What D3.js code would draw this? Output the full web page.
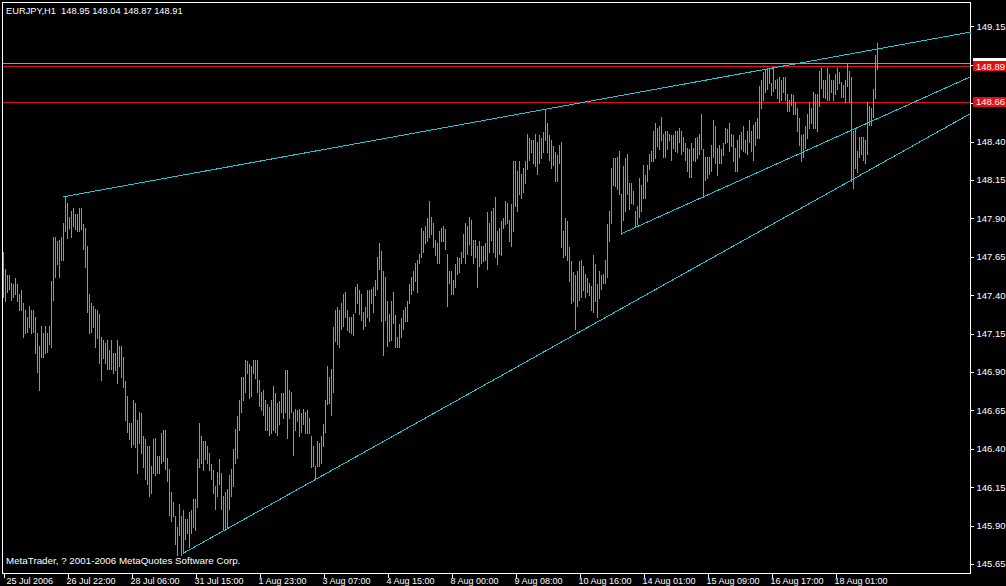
<!DOCTYPE html>
<html><head><meta charset="utf-8">
<script src="https://cdn.jsdelivr.net/npm/d3@7"></script>
<style>
html,body{margin:0;padding:0;background:#000;overflow:hidden}
svg{display:block}
text{font-family:"Liberation Sans",Arial,sans-serif}
</style>
</head><body>
<svg id="c" width="1006" height="586"></svg>
<script>
// ---------- DATA ----------
const symbol = "EURJPY,H1";
const lastOHLC = [148.95, 149.04, 148.87, 148.91];
const copyright = "MetaTrader, ? 2001-2006 MetaQuotes Software Corp.";

const highs = [
147.68,147.57,147.53,147.53,147.48,147.47,147.51,147.47,147.41,147.43,
147.35,147.30,147.26,147.33,147.30,147.30,147.26,147.15,147.07,147.20,
147.15,147.20,147.15,147.20,147.49,147.78,147.78,147.75,147.76,147.78,
147.87,148.04,148.00,147.91,147.95,147.97,147.93,147.93,147.97,147.97,
147.86,147.84,147.72,147.41,147.35,147.33,147.31,147.30,147.28,147.13,
147.11,147.09,147.11,147.04,147.11,147.02,147.02,147.11,147.07,147.07,
147.00,146.84,146.74,146.57,146.57,146.72,146.70,146.59,146.64,146.63,
146.48,146.46,146.42,146.42,146.29,146.46,146.47,146.35,146.35,146.50,
146.52,146.52,146.34,146.27,146.12,146.05,145.96,145.89,146.04,145.96,
146.00,145.94,145.94,145.99,146.00,146.07,146.07,146.33,146.57,146.48,
146.45,146.45,146.42,146.37,146.30,146.26,146.16,146.25,146.33,146.24,
146.09,146.12,146.14,146.23,146.27,146.40,146.53,146.61,146.72,146.87,
146.87,146.98,146.97,146.95,146.94,146.98,146.98,146.98,146.85,146.77,
146.78,146.72,146.69,146.67,146.72,146.81,146.76,146.70,146.71,146.76,
146.76,146.91,146.91,146.78,146.77,146.64,146.66,146.65,146.66,146.63,
146.66,146.64,146.65,146.60,146.48,146.42,146.29,146.45,146.44,146.48,
146.56,146.72,146.94,146.87,146.92,147.19,147.30,147.32,147.30,147.35,
147.41,147.42,147.30,147.26,147.26,147.28,147.45,147.47,147.43,147.41,
147.29,147.32,147.43,147.43,147.44,147.45,147.50,147.65,147.74,147.69,
147.56,147.52,147.36,147.28,147.36,147.42,147.27,147.13,147.21,147.25,
147.30,147.32,147.36,147.47,147.52,147.56,147.61,147.63,147.67,147.84,
147.82,147.85,147.90,148.01,147.91,147.87,147.76,147.74,147.82,147.84,
147.85,147.83,147.67,147.56,147.56,147.50,147.60,147.65,147.64,147.68,
147.80,147.87,147.85,147.91,147.89,147.76,147.76,147.72,147.75,147.72,
147.72,147.74,147.94,147.87,147.95,147.97,148.04,147.82,147.84,147.88,
147.90,148.01,148.00,147.89,147.99,148.27,148.27,148.21,148.27,148.19,
148.23,148.27,148.45,148.42,148.41,148.41,148.45,148.40,148.44,148.42,
148.46,148.61,148.52,148.44,148.41,148.37,148.33,148.31,148.38,148.40,
147.82,147.90,147.88,147.71,147.62,147.55,147.53,147.56,147.62,147.63,
147.59,147.54,147.51,147.48,147.46,147.66,147.60,147.47,147.56,147.53,
147.54,147.63,147.86,147.95,148.23,148.29,148.29,148.30,148.34,148.06,
148.24,148.29,148.32,148.13,148.13,148.08,147.95,147.98,148.16,148.12,
148.25,148.18,148.25,148.32,148.34,148.47,148.52,148.49,148.50,148.56,
148.45,148.47,148.47,148.45,148.44,148.44,148.47,148.47,148.49,148.47,
148.43,148.39,148.36,148.35,148.39,148.36,148.42,148.43,148.45,148.58,
148.35,148.30,148.30,148.30,148.38,148.54,148.50,148.36,148.38,148.35,
148.39,148.49,148.48,148.52,148.45,148.44,148.36,148.41,148.44,148.46,
148.50,148.41,148.47,148.54,148.47,148.51,148.53,148.55,148.76,148.80,
148.85,148.87,148.88,148.87,148.78,148.88,148.80,148.81,148.82,148.80,
148.82,148.82,148.71,148.67,148.71,148.70,148.66,148.62,148.55,148.44,
148.45,148.50,148.58,148.66,148.62,148.72,148.71,148.71,148.86,148.88,
148.80,148.80,148.88,148.84,148.80,148.80,148.84,148.88,148.85,148.79,
148.77,148.80,148.91,148.86,148.82,148.47,148.49,148.34,148.43,148.43,
148.43,148.41,148.66,148.63,148.62,148.74,148.96,149.04
];

const lows = [
147.39,147.36,147.42,147.44,147.37,147.39,147.41,147.36,147.30,147.30,
147.13,147.15,147.16,147.19,147.15,147.16,147.02,146.90,146.78,147.00,
147.00,147.02,147.03,147.08,147.06,147.37,147.52,147.60,147.52,147.63,
147.63,147.82,147.77,147.84,147.78,147.85,147.83,147.82,147.82,147.83,
147.70,147.58,147.29,147.15,147.16,147.19,147.06,147.12,146.96,146.85,
146.99,146.96,146.92,146.92,146.92,146.89,146.91,146.83,146.94,146.87,
146.80,146.59,146.51,146.46,146.41,146.43,146.41,146.24,146.44,146.37,
146.28,146.20,146.17,146.09,146.11,146.24,146.23,146.24,146.24,146.31,
146.32,146.27,146.19,145.97,145.93,145.96,145.78,145.71,145.84,145.71,
145.72,145.81,145.85,145.76,145.85,145.89,145.87,146.02,146.28,146.31,
146.26,146.33,146.31,146.26,146.20,146.11,146.01,146.09,146.17,146.01,
145.88,145.87,145.89,146.01,146.09,146.16,146.31,146.34,146.52,146.64,
146.72,146.77,146.89,146.73,146.74,146.89,146.86,146.77,146.68,146.65,
146.62,146.52,146.52,146.49,146.50,146.52,146.51,146.49,146.56,146.64,
146.60,146.64,146.47,146.60,146.64,146.36,146.52,146.58,146.48,146.51,
146.56,146.50,146.50,146.50,146.28,146.29,146.20,146.29,146.29,146.31,
146.42,146.51,146.69,146.70,146.62,146.77,147.10,147.08,147.06,147.18,
147.20,147.26,147.17,147.16,147.15,147.14,147.29,147.35,147.28,147.24,
147.18,147.20,147.26,147.23,147.35,147.29,147.40,147.44,147.57,147.23,
147.01,147.24,147.07,147.10,147.11,147.22,147.06,147.06,147.06,147.13,
147.18,147.23,147.23,147.35,147.41,147.43,147.49,147.42,147.61,147.65,
147.68,147.74,147.75,147.78,147.80,147.71,147.66,147.61,147.61,147.75,
147.75,147.70,147.33,147.48,147.41,147.41,147.45,147.54,147.55,147.61,
147.65,147.61,147.67,147.73,147.66,147.61,147.65,147.45,147.59,147.61,
147.62,147.63,147.57,147.68,147.76,147.68,147.65,147.60,147.67,147.66,
147.84,147.86,147.87,147.75,147.72,147.82,147.98,147.95,148.06,148.03,
148.07,148.13,148.22,148.28,148.33,148.26,148.24,148.19,148.26,148.29,
148.33,148.41,148.33,148.28,148.23,148.25,148.14,148.14,148.26,147.71,
147.65,147.66,147.63,147.49,147.35,147.36,147.18,147.33,147.37,147.39,
147.43,147.39,147.42,147.40,147.30,147.29,147.36,147.26,147.38,147.44,
147.48,147.48,147.52,147.75,147.87,148.12,148.11,148.09,148.06,147.80,
147.89,147.95,148.06,147.96,148.00,147.99,147.85,147.86,147.91,147.95,
148.03,148.03,148.14,148.22,148.27,148.27,148.29,148.37,148.35,148.41,
148.30,148.30,148.35,148.41,148.28,148.36,148.34,148.33,148.40,148.32,
148.34,148.28,148.21,148.17,148.17,148.28,148.27,148.29,148.32,148.35,
148.04,148.15,148.16,148.19,148.21,148.30,148.26,148.18,148.26,148.26,
148.31,148.39,148.40,148.34,148.37,148.27,148.21,148.21,148.30,148.35,
148.34,148.33,148.32,148.40,148.34,148.28,148.38,148.42,148.42,148.62,
148.67,148.72,148.74,148.78,148.70,148.73,148.75,148.68,148.66,148.67,
148.72,148.67,148.60,148.60,148.64,148.58,148.58,148.47,148.38,148.27,
148.30,148.36,148.42,148.49,148.52,148.49,148.49,148.47,148.63,148.75,
148.69,148.68,148.67,148.67,148.72,148.67,148.71,148.74,148.78,148.69,
148.69,148.66,148.76,148.66,148.14,148.10,148.23,148.20,148.30,148.32,
148.28,148.26,148.32,148.51,148.51,148.56,148.68,148.87
];

const timeLabels = ["25 Jul 2006","26 Jul 22:00","28 Jul 06:00","31 Jul 15:00","1 Aug 23:00",
  "3 Aug 07:00","4 Aug 15:00","8 Aug 00:00","9 Aug 08:00","10 Aug 16:00","14 Aug 01:00",
  "15 Aug 09:00","16 Aug 17:00","18 Aug 01:00"];
const timeTickBars = [0,32,64,96,128,160,192,224,256,288,320,352,384,416];
const priceTicks = [149.15,148.90,148.65,148.40,148.15,147.90,147.65,147.40,147.15,146.90,146.65,146.40,146.15,145.90,145.65];

const hLinePrices = [148.89, 148.66];
const bidPrice = lastOHLC[3];

// trend lines: two anchor points [barIndex, price]; drawn as rays to the right edge
const trendUpper  = [[30, 148.04], [271, 148.61]];
const trendMiddle = [[309, 147.80], [350, 148.04]];
const trendLower  = [[90, 145.72], [156, 146.20]];

// ---------- DRAW ----------
const svg = d3.select("#c");
svg.append("rect").attr("width",1006).attr("height",586).attr("fill","#000");

const x = d3.scaleLinear().domain([0, 483.5]).range([3.5, 970.5]);
const y = d3.scaleLinear().domain([145.65, 149.15]).range([563.9, 26.3]);
const xMax = 483.5;

const BAR = "#32dc1e", TREND = "#1ec8d6", RED = "#e01010", GRID = "#ffffff";

// frame
svg.append("rect").attr("x",2.5).attr("y",2.5).attr("width",968).attr("height",571)
  .attr("fill","none").attr("stroke",GRID).attr("stroke-width",1).attr("shape-rendering","crispEdges");

// horizontal object lines
svg.append("line").attr("x1",3).attr("x2",970).attr("y1",Math.round(y(bidPrice))+0.5).attr("y2",Math.round(y(bidPrice))+0.5)
  .attr("stroke","#9a9a9a").attr("shape-rendering","crispEdges");
svg.append("g").selectAll("line").data(hLinePrices).join("line")
  .attr("x1",3).attr("x2",970)
  .attr("y1",d=>Math.round(y(d))+0.5).attr("y2",d=>Math.round(y(d))+0.5)
  .attr("stroke",RED).attr("shape-rendering","crispEdges");

// bars (high-low)
svg.append("g").selectAll("line").data(highs).join("line")
  .attr("x1",(d,i)=>x(i)).attr("x2",(d,i)=>x(i))
  .attr("y1",d=>Math.round(y(d)))
  .attr("y2",(d,i)=>Math.round(y(lows[i]))+1)
  .attr("stroke",BAR).attr("stroke-width",1).attr("shape-rendering","crispEdges");

// trend lines
function ray(t){
  const [a,b] = t;
  const slope = (b[1]-a[1])/(b[0]-a[0]);
  return [[a[0],a[1]],[xMax, a[1] + slope*(xMax-a[0])]];
}
const lineGen = d3.line().x(d=>x(d[0])).y(d=>y(d[1]));
svg.append("g").selectAll("path").data([trendUpper,trendMiddle,trendLower].map(ray)).join("path")
  .attr("d",lineGen).attr("fill","none").attr("stroke",TREND).attr("stroke-width",1)
  .attr("shape-rendering","crispEdges");

// y axis
const yAxis = d3.axisRight(y).tickValues(priceTicks).tickSize(3).tickPadding(3).tickFormat(d3.format(".2f"));
const gy = svg.append("g").attr("transform","translate(970.5,0)").call(yAxis);
gy.select(".domain").remove();
gy.selectAll(".tick line").attr("stroke",GRID).attr("shape-rendering","crispEdges");
gy.selectAll(".tick text").attr("fill","#fff").attr("font-size","9.5px")
  .attr("font-family","'Liberation Sans',Arial,sans-serif");

// x axis
const xAxis = d3.axisBottom(x).tickValues(timeTickBars).tickSize(4).tickFormat((d,i)=>timeLabels[i]);
const gx = svg.append("g").attr("transform","translate(0,573.5)").call(xAxis);
gx.select(".domain").remove();
gx.selectAll(".tick line").attr("stroke",GRID).attr("shape-rendering","crispEdges");
gx.selectAll(".tick text").attr("fill","#fff").attr("font-size","9px")
  .attr("font-family","'Liberation Sans',Arial,sans-serif")
  .attr("text-anchor","start").attr("x",(d,i)=>i===0?2.5:-1.5).attr("y",4.5);

// price labels on the axis
const bidY = y(bidPrice);
svg.append("rect").attr("x",973).attr("y",Math.round(bidY)-5).attr("width",33).attr("height",10).attr("fill","#fff");
svg.append("text").attr("x",976).attr("y",bidY+3.5).attr("font-size","9.5px").attr("fill","#000")
  .text(d3.format(".2f")(bidPrice));
const lg = svg.append("g").selectAll("g").data(hLinePrices).join("g");
lg.append("rect").attr("x",973).attr("y",d=>Math.round(y(d))-5).attr("width",33).attr("height",10).attr("fill",RED);
lg.append("text").attr("x",976).attr("y",d=>y(d)+3.5).attr("font-size","9.5px").attr("fill","#fff")
  .text(d=>d3.format(".2f")(d));

// header and copyright
svg.append("text").attr("x",6).attr("y",14).attr("font-size","9.3px").attr("fill","#fff")
  .attr("xml:space","preserve")
  .text(symbol + "  " + lastOHLC.map(d3.format(".2f")).join(" "));
svg.append("text").attr("x",6).attr("y",564).attr("font-size","9.8px").attr("fill","#fff")
  .text(copyright);
</script>
</body></html>
